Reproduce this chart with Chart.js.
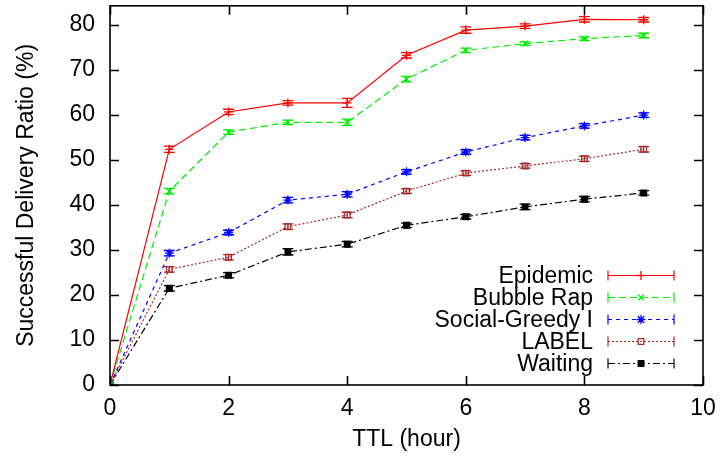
<!DOCTYPE html>
<html>
<head>
<meta charset="utf-8">
<script src="https://cdn.jsdelivr.net/npm/chart.js@4.4.1/dist/chart.umd.min.js"></script>
<style>
  html, body { margin: 0; padding: 0; background: #fff; }
  canvas { display: block; }
</style>
</head>
<body>
<canvas id="ratioChart" width="724" height="458"></canvas>
<script>
// TTL en horas
const ttlHours = [0, 1, 2, 3, 4, 5, 6, 7, 8, 9];

// Series (ratio de entrega, %)
const epidemic = [0, 52.4, 60.7, 62.7, 62.7, 73.3, 78.9, 79.8, 81.3, 81.2];
const bubbleRap = [0, 43.1, 56.2, 58.4, 58.4, 68.0, 74.4, 75.9, 77.0, 77.7];
const socialGreedy = [0, 29.3, 33.9, 41.1, 42.4, 47.4, 51.8, 55.0, 57.6, 60.0];
const labelSeries = [0, 25.7, 28.4, 35.2, 37.8, 43.1, 47.1, 48.7, 50.3, 52.4];
const waiting = [0, 21.5, 24.4, 29.6, 31.3, 35.5, 37.4, 39.6, 41.3, 42.7];

// Barras de error (+/-)
const epidemicErr = [0, 0.7, 0.6, 0.5, 1.0, 0.6, 0.7, 0.5, 0.6, 0.5];
const bubbleRapErr = [0, 0.6, 0.5, 0.5, 0.7, 0.6, 0.5, 0.4, 0.4, 0.5];
const socialGreedyErr = [0, 0.6, 0.5, 0.6, 0.6, 0.5, 0.5, 0.5, 0.5, 0.5];
const labelErr = [0, 0.6, 0.6, 0.6, 0.6, 0.5, 0.5, 0.5, 0.6, 0.6];
const waitingErr = [0, 0.6, 0.6, 0.7, 0.6, 0.5, 0.5, 0.6, 0.6, 0.5];

// Ticks de los ejes
const xTicks = [0, 2, 4, 6, 8, 10];
const yTicks = [0, 10, 20, 30, 40, 50, 60, 70, 80];

const FONT = 'Liberation Sans, Arial, sans-serif';
const FONT_SIZE = 23;

function toPoints(values) {
    return values.map((v, i) => ({ x: ttlHours[i], y: v }));
}

function serie(label, values, errors, color, dash, pointStyle, radius, fill) {
    return {
        label: label,
        data: toPoints(values),
        errors: errors,
        borderColor: color,
        borderWidth: 1.2,
        borderDash: dash,
        pointStyle: pointStyle,
        pointRadius: radius,
        pointBorderColor: color,
        pointBackgroundColor: fill,
        pointBorderWidth: 1.3,
        tension: 0,
        fill: false
    };
}

// Barras de error con remates horizontales
const errorBarsPlugin = {
    id: 'errorBars',
    afterDatasetsDraw(chart) {
        const ctx = chart.ctx;
        const xs = chart.scales.x;
        const ys = chart.scales.y;
        ctx.save();
        chart.data.datasets.forEach(ds => {
            ctx.strokeStyle = ds.borderColor;
            ctx.lineWidth = 1.3;
            ctx.setLineDash([]);
            ds.data.forEach((p, i) => {
                const e = ds.errors[i];
                if (!e) return;
                const px = xs.getPixelForValue(p.x);
                const top = ys.getPixelForValue(p.y + e);
                const bot = ys.getPixelForValue(p.y - e);
                ctx.beginPath();
                ctx.moveTo(px, top); ctx.lineTo(px, bot);
                ctx.moveTo(px - 5.5, top); ctx.lineTo(px + 5.5, top);
                ctx.moveTo(px - 5.5, bot); ctx.lineTo(px + 5.5, bot);
                ctx.stroke();
            });
        });
        ctx.restore();
    }
};

// Marco con ticks hacia dentro en los cuatro lados
const framePlugin = {
    id: 'frame',
    afterDraw(chart) {
        const ctx = chart.ctx;
        const a = chart.chartArea;
        const xs = chart.scales.x;
        const ys = chart.scales.y;
        const len = 9;
        ctx.save();
        ctx.strokeStyle = '#000';
        ctx.lineWidth = 1.6;
        ctx.setLineDash([]);
        ctx.strokeRect(a.left, a.top, a.right - a.left, a.bottom - a.top);
        ctx.beginPath();
        xTicks.forEach(v => {
            const px = Math.round(xs.getPixelForValue(v)) + 0.5;
            ctx.moveTo(px, a.bottom); ctx.lineTo(px, a.bottom - len);
            ctx.moveTo(px, a.top); ctx.lineTo(px, a.top + len);
        });
        yTicks.forEach(v => {
            const py = Math.round(ys.getPixelForValue(v)) + 0.5;
            ctx.moveTo(a.left, py); ctx.lineTo(a.left + len, py);
            ctx.moveTo(a.right, py); ctx.lineTo(a.right - len, py);
        });
        ctx.stroke();
        ctx.restore();
    }
};

// Leyenda estilo gnuplot: texto a la derecha, muestra de línea con barra de error
const keyPlugin = {
    id: 'gnuKey',
    afterDraw(chart) {
        const ctx = chart.ctx;
        const textRight = 593;
        const x1 = 608, x2 = 674;
        const rowTop = 275, rowGap = 22.1;
        ctx.save();
        ctx.font = FONT_SIZE + 'px ' + FONT;
        ctx.textAlign = 'right';
        ctx.textBaseline = 'middle';
        chart.data.datasets.forEach((ds, i) => {
            const y = Math.round(rowTop + i * rowGap) + 0.5;
            ctx.fillStyle = '#000';
            ctx.fillText(ds.label, textRight, y + 1);
            ctx.strokeStyle = ds.borderColor;
            ctx.lineWidth = 1.2;
            ctx.setLineDash(ds.borderDash);
            ctx.beginPath();
            ctx.moveTo(x1, y); ctx.lineTo(x2, y);
            ctx.stroke();
            ctx.setLineDash([]);
            ctx.beginPath();
            ctx.moveTo(x1, y - 5); ctx.lineTo(x1, y + 5);
            ctx.moveTo(x2, y - 5); ctx.lineTo(x2, y + 5);
            ctx.stroke();
            ctx.fillStyle = ds.pointBackgroundColor;
            ctx.lineWidth = ds.pointBorderWidth;
            Chart.helpers.drawPoint(ctx, {
                pointStyle: ds.pointStyle,
                radius: ds.pointRadius,
                borderWidth: ds.pointBorderWidth,
                rotation: 0
            }, (x1 + x2) / 2, y);
        });
        ctx.restore();
    }
};

new Chart(document.getElementById('ratioChart'), {
    type: 'line',
    data: {
        datasets: [
            serie('Epidemic', epidemic, epidemicErr, '#ff0000', [], 'cross', 4.5, '#ff0000'),
            serie('Bubble Rap', bubbleRap, bubbleRapErr, '#00ee00', [7, 4], 'crossRot', 4, '#00ee00'),
            serie('Social-Greedy I', socialGreedy, socialGreedyErr, '#0000ff', [4, 4], 'star', 4.5, '#0000ff'),
            serie('LABEL', labelSeries, labelErr, '#a52a2a', [2, 2], 'rect', 4, 'rgba(0,0,0,0)'),
            serie('Waiting', waiting, waitingErr, '#000000', [7, 3, 2, 3], 'rect', 4, '#000000')
        ]
    },
    options: {
        responsive: false,
        animation: false,
        layout: { padding: { left: 0, right: 21, top: 0, bottom: 0 } },
        plugins: {
            legend: { display: false },
            tooltip: { enabled: false }
        },
        scales: {
            x: {
                type: 'linear',
                min: 0,
                max: 10,
                afterFit(scale) {
                    scale.height = 73;
                    scale.paddingLeft = 0;
                    scale.paddingRight = 0;
                },
                afterBuildTicks(scale) { scale.ticks = xTicks.map(v => ({ value: v })); },
                grid: { display: false, drawTicks: false },
                border: { display: false },
                ticks: { color: '#000', padding: 10, font: { family: FONT, size: FONT_SIZE } },
                title: {
                    display: true,
                    text: 'TTL (hour)',
                    color: '#000',
                    padding: { top: 0, bottom: 5 },
                    font: { family: FONT, size: FONT_SIZE }
                }
            },
            y: {
                min: 0,
                max: 84.3,
                afterFit(scale) {
                    scale.width = 110;
                    scale.paddingTop = 0;
                    scale.paddingBottom = 0;
                },
                afterBuildTicks(scale) { scale.ticks = yTicks.map(v => ({ value: v })); },
                grid: { display: false, drawTicks: false },
                border: { display: false },
                ticks: { color: '#000', padding: 15, font: { family: FONT, size: FONT_SIZE } },
                title: {
                    display: true,
                    text: 'Successful Delivery Ratio (%)',
                    color: '#000',
                    padding: { top: 13, bottom: 0 },
                    font: { family: FONT, size: FONT_SIZE }
                }
            }
        }
    },
    plugins: [errorBarsPlugin, framePlugin, keyPlugin]
});
</script>
</body>
</html>
